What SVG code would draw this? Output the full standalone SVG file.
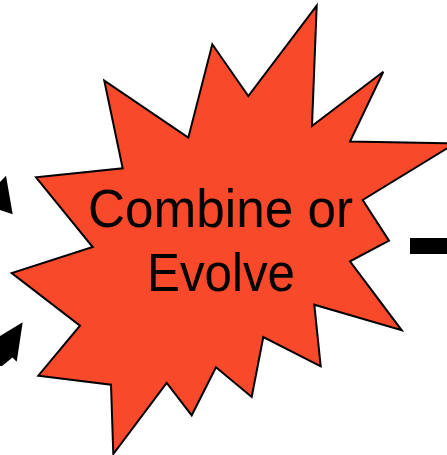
<svg xmlns="http://www.w3.org/2000/svg" width="447" height="455" viewBox="0 0 447 455">
<style>
.burst{fill:#F84A2B;stroke:#000;stroke-width:2;stroke-linejoin:miter}
.lbl{font-family:"Liberation Sans",Arial,sans-serif;font-size:54px;fill:#000;text-anchor:middle}
.arrow{fill:#000}
</style>
<rect width="447" height="455" fill="#fff"/>
<g id="connectors">
<polygon class="arrow" points="0,182 6,175.7 12.7,214.3 0,210"/>
<polygon class="arrow" points="0,336 22.7,322.3 16.7,361.7 12.5,357.5 2,366 0,366"/>
<rect class="arrow" x="410" y="238" width="37" height="16"/>
</g>
<g id="node-combine">
<polygon class="burst" points="104.3,80.7 188.3,137.7 212.3,44.3 248.3,96 316.7,5.7 312,126 383.3,71.7 350,141.5 455,143.5 362.7,200 389,240.7 350,261.3 401.7,330.3 314.3,304.7 320.7,366.3 263.3,337 251.7,397 216,367.3 191.7,415.3 166.7,383 113.3,454 111,384.7 38.3,375.7 80,325.7 11.7,273 92.7,247 36,177.3 122.7,168.3"/>
<text class="lbl" x="220.5" y="227" textLength="265" lengthAdjust="spacingAndGlyphs">Combine or</text>
<text class="lbl" x="221" y="291" textLength="148" lengthAdjust="spacingAndGlyphs">Evolve</text>
</g>
</svg>
